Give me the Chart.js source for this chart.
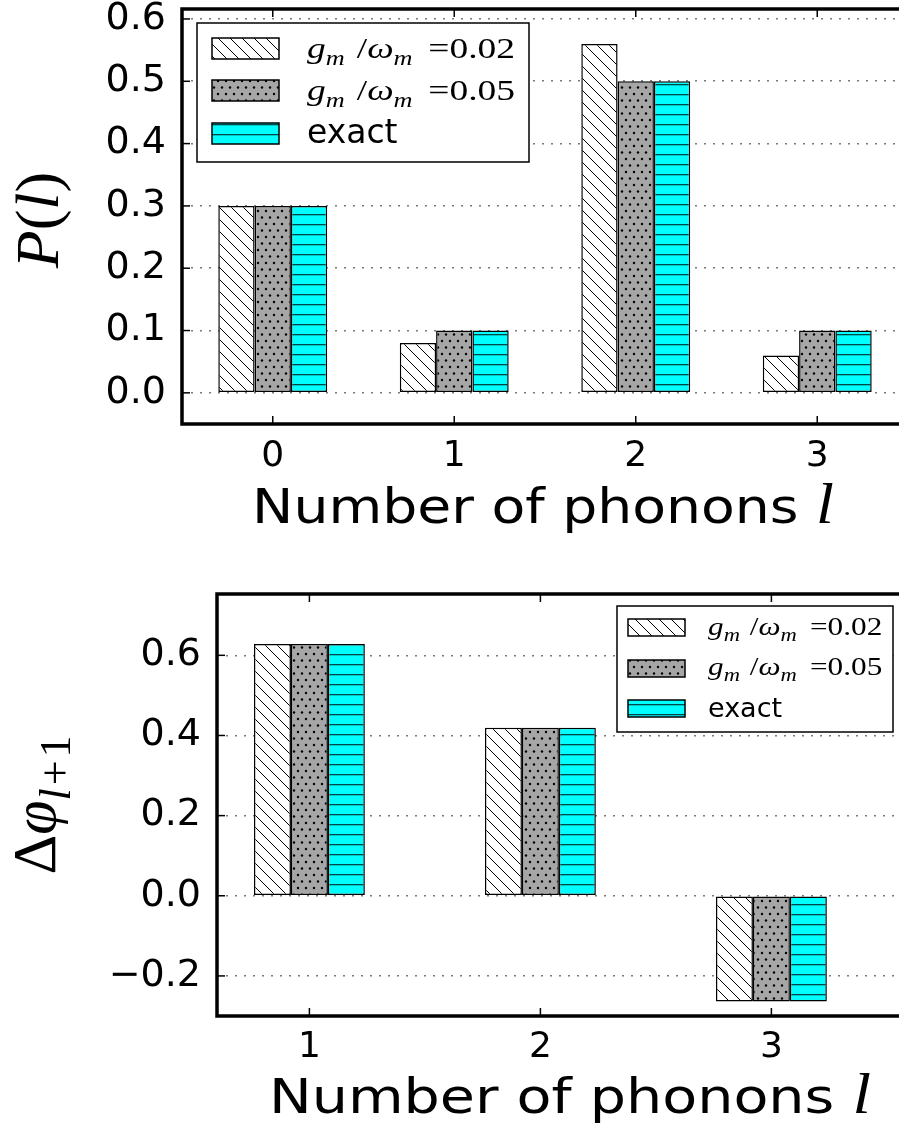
<!DOCTYPE html>
<html>
<head>
<meta charset="utf-8">
<script src="https://cdn.jsdelivr.net/npm/chart.js@4/dist/chart.umd.min.js"></script>
<style>
  html, body { margin: 0; padding: 0; background: #fff; overflow: hidden; width: 899px; height: 1128px; }
  canvas { position: absolute; left: 0; }
  #probChart { top: 0; }
  #phaseChart { top: 560px; }
</style>
</head>
<body>
<canvas id="probChart" width="960" height="560"></canvas>
<canvas id="phaseChart" width="960" height="568"></canvas>
<script>
// ---- data: phonon-number distribution P(l) ----
const phononNumbers = ['0', '1', '2', '3'];
const probWeak   = [0.30, 0.08, 0.56, 0.06];   // g_m/ω_m = 0.02
const probStrong = [0.30, 0.10, 0.50, 0.10];   // g_m/ω_m = 0.05
const probExact  = [0.30, 0.10, 0.50, 0.10];
const probTicks  = [0.0, 0.1, 0.2, 0.3, 0.4, 0.5, 0.6];

// ---- data: phase differences Δφ_{l+1} ----
const phaseNumbers = [1, 2, 3];
const phaseWeak   = [0.628, 0.419, -0.264];
const phaseStrong = [0.628, 0.419, -0.264];
const phaseExact  = [0.628, 0.419, -0.264];
const phaseTicks  = [-0.2, 0.0, 0.2, 0.4, 0.6];

const couplings = ['0.02', '0.05'];
const exactLabel = 'exact';

// ---- fill patterns ----
function makePattern(kind) {
  const c = document.createElement('canvas');
  const g = c.getContext('2d');
  if (kind === 'diag') {
    c.width = 12; c.height = 12;
    g.fillStyle = '#fff'; g.fillRect(0, 0, 12, 12);
    g.strokeStyle = '#000'; g.lineWidth = 1;
    for (const o of [-12, 0, 12]) {
      g.beginPath(); g.moveTo(o, 0); g.lineTo(o + 12, 12); g.stroke();
    }
  } else if (kind === 'dots') {
    c.width = 8; c.height = 13;
    g.fillStyle = '#a6a6a6'; g.fillRect(0, 0, 8, 13);
    g.fillStyle = '#000';
    g.beginPath(); g.arc(2, 3, 1.2, 0, Math.PI * 2); g.fill();
    g.beginPath(); g.arc(6, 9.5, 1.2, 0, Math.PI * 2); g.fill();
  } else {
    c.width = 10; c.height = 10;
    g.fillStyle = '#00ffff'; g.fillRect(0, 0, 10, 10);
    g.fillStyle = 'rgba(0,40,40,0.85)';
    g.fillRect(0, 4, 10, 1.3);
  }
  return g.createPattern(c, 'repeat');
}
const fills = [makePattern('diag'), makePattern('dots'), makePattern('lines')];

// ---- text helpers ----
const it = s => `italic ${s}px "Liberation Serif"`;
const rm = s => `${s}px "Liberation Serif"`;
const sans = s => `${s}px "DejaVu Sans"`;

function drawRuns(ctx, runs, x, y, opt) {
  const o = Object.assign({ sx: 1, rot: 0, align: 'left' }, opt || {});
  ctx.save();
  ctx.translate(x, y);
  if (o.rot) ctx.rotate(o.rot);
  ctx.scale(o.sx, 1);
  ctx.fillStyle = '#000';
  ctx.textBaseline = 'alphabetic';
  ctx.textAlign = 'left';
  let total = 0;
  for (const r of runs) { ctx.font = r.f; total += (r.gap || 0) + ctx.measureText(r.t).width; }
  let cx = o.align === 'center' ? -total / 2 : 0;
  for (const r of runs) {
    cx += r.gap || 0;
    ctx.font = r.f;
    ctx.fillText(r.t, cx, r.dy || 0);
    cx += ctx.measureText(r.t).width;
  }
  ctx.restore();
}

function couplingRuns(value, M) {
  const S = Math.round(M * 0.7);
  return [
    { t: 'g', f: it(M) },
    { t: 'm', f: it(S), dy: 0.22 * M },
    { t: '/', f: rm(M), gap: 0.32 * M },
    { t: 'ω', f: it(M) },
    { t: 'm', f: it(S), dy: 0.22 * M },
    { t: '=', f: rm(M), gap: 0.42 * M },
    { t: value, f: rm(M) }
  ];
}

// ---- plugins ----
const frameTicks = {
  id: 'frameTicks',
  afterDraw(chart) {
    const { ctx, chartArea: a, scales: { x, y } } = chart;
    ctx.save();
    ctx.strokeStyle = '#000';
    ctx.lineWidth = 1.5;
    const seg = (x1, y1, x2, y2) => { ctx.beginPath(); ctx.moveTo(x1, y1); ctx.lineTo(x2, y2); ctx.stroke(); };
    x.ticks.forEach((t, i) => {
      const px = x.getPixelForTick(i);
      seg(px, a.bottom, px, a.bottom - 8);
      seg(px, a.top, px, a.top + 8);
    });
    y.ticks.forEach((t, i) => {
      const py = y.getPixelForTick(i);
      seg(a.left, py, a.left + 8, py);
      seg(a.right, py, a.right - 8, py);
    });
    ctx.lineWidth = 3.5;
    ctx.strokeRect(a.left, a.top, a.right - a.left, a.bottom - a.top);
    ctx.restore();
  }
};

function legendPlugin(cfg) {
  return {
    id: 'boxLegend',
    afterDraw(chart) {
      const ctx = chart.ctx;
      ctx.save();
      ctx.fillStyle = '#fff';
      ctx.fillRect(cfg.x, cfg.y, cfg.w, cfg.h);
      ctx.strokeStyle = '#000';
      ctx.lineWidth = 1.5;
      ctx.strokeRect(cfg.x, cfg.y, cfg.w, cfg.h);
      chart.data.datasets.forEach((ds, i) => {
        const py = cfg.rowY[i];
        ctx.fillStyle = ds.backgroundColor;
        ctx.fillRect(cfg.px, py, cfg.pw, cfg.ph);
        ctx.lineWidth = 1.5;
        ctx.strokeRect(cfg.px, py, cfg.pw, cfg.ph);
        const base = cfg.baseY[i];
        if (i < couplings.length) {
          drawRuns(ctx, couplingRuns(couplings[i], cfg.math), cfg.tx, base, { sx: cfg.sx });
        } else {
          drawRuns(ctx, [{ t: exactLabel, f: sans(cfg.sans) }], cfg.tx, base);
        }
      });
      ctx.restore();
    }
  };
}

function titlePlugin(xRuns, xPos, yRuns, yPos) {
  return {
    id: 'axisTitles',
    afterDraw(chart) {
      const ctx = chart.ctx;
      drawRuns(ctx, xRuns, xPos[0], xPos[1], { align: 'center', sx: xPos[2] });
      drawRuns(ctx, yRuns, yPos[0], yPos[1], { align: 'center', rot: -Math.PI / 2 });
    }
  };
}

function datasetsFrom(series, toPoint) {
  return series.map((vals, i) => ({
    data: toPoint(vals),
    backgroundColor: fills[i],
    borderColor: '#000',
    borderWidth: 1.5,
    borderSkipped: false,
    categoryPercentage: 0.6,
    barPercentage: 1.0
  }));
}

const gridStyle = { color: '#7a7a7a', lineWidth: 1.6, drawTicks: false };
const noPad = s => { s.paddingTop = 0; s.paddingBottom = 0; s.paddingLeft = 0; s.paddingRight = 0; };

// ---- upper panel: P(l) ----
new Chart(document.getElementById('probChart'), {
  type: 'bar',
  data: {
    labels: phononNumbers,
    datasets: datasetsFrom([probWeak, probStrong, probExact], v => v)
  },
  options: {
    responsive: false,
    animation: false,
    devicePixelRatio: 1,
    layout: { padding: { top: 9, right: 52, left: 0, bottom: 0 } },
    plugins: { legend: { display: false }, tooltip: { enabled: false } },
    scales: {
      x: {
        offset: true,
        grid: { display: false, drawTicks: false },
        border: { display: false },
        ticks: { color: '#000', font: { family: 'DejaVu Sans', size: 36 }, padding: 11, maxRotation: 0 },
        afterFit(s) { s.height = 136; noPad(s); }
      },
      y: {
        min: -0.05, max: 0.616,
        z: 1,
        afterBuildTicks(s) { s.ticks = probTicks.map(v => ({ value: v })); },
        ticks: { color: '#000', font: { family: 'DejaVu Sans', size: 38 }, padding: 16, autoSkip: false,
                 callback: v => v.toFixed(1) },
        grid: gridStyle,
        border: { display: false, dash: [2, 7] },
        afterFit(s) { s.width = 182; noPad(s); }
      }
    }
  },
  plugins: [
    frameTicks,
    titlePlugin(
      [{ t: 'Number of phonons ', f: sans(48) }, { t: 'l', f: it(56) }], [543, 523, 1.15],
      [{ t: 'P', f: it(62) }, { t: '(', f: rm(62) }, { t: 'l', f: it(62) }, { t: ')', f: rm(62) }], [58, 220]
    ),
    legendPlugin({ x: 197, y: 23, w: 332, h: 139, px: 212, pw: 67, ph: 21,
                   rowY: [38, 80, 123], baseY: [58, 100, 143], tx: 307, math: 30, sx: 1.25, sans: 33 })
  ]
});

// ---- lower panel: Δφ_{l+1} ----
new Chart(document.getElementById('phaseChart'), {
  type: 'bar',
  data: {
    datasets: datasetsFrom([phaseWeak, phaseStrong, phaseExact],
      vals => vals.map((v, i) => ({ x: phaseNumbers[i], y: v })))
      .map(ds => Object.assign(ds, { categoryPercentage: 0.48 }))
  },
  options: {
    responsive: false,
    animation: false,
    devicePixelRatio: 1,
    layout: { padding: { top: 34, right: 50, left: 0, bottom: 0 } },
    plugins: { legend: { display: false }, tooltip: { enabled: false } },
    scales: {
      x: {
        type: 'linear',
        min: 0.6, max: 3.6,
        offset: false,
        afterBuildTicks(s) { s.ticks = phaseNumbers.map(v => ({ value: v })); },
        grid: { display: false, drawTicks: false, offset: false },
        border: { display: false },
        ticks: { color: '#000', font: { family: 'DejaVu Sans', size: 36 }, padding: 10, maxRotation: 0,
                 autoSkip: false, callback: v => String(v) },
        afterFit(s) { s.height = 112; noPad(s); }
      },
      y: {
        min: -0.3, max: 0.753,
        z: 1,
        afterBuildTicks(s) { s.ticks = phaseTicks.map(v => ({ value: v })); },
        ticks: { color: '#000', font: { family: 'DejaVu Sans', size: 38 }, padding: 16, autoSkip: false,
                 callback: v => (v < 0 ? '\u2212' : '') + Math.abs(v).toFixed(1) },
        grid: gridStyle,
        border: { display: false, dash: [2, 7] },
        afterFit(s) { s.width = 217; noPad(s); }
      }
    }
  },
  plugins: [
    frameTicks,
    titlePlugin(
      [{ t: 'Number of phonons ', f: sans(48) }, { t: 'l', f: it(56) }], [570, 553, 1.19],
      [{ t: 'Δ', f: rm(62) }, { t: 'φ', f: it(62) },
       { t: 'l', f: it(44), dy: 15 }, { t: '+', f: rm(44), dy: 15, gap: 3 }, { t: '1', f: rm(44), dy: 15, gap: 3 }],
      [55, 245]
    ),
    legendPlugin({ x: 617, y: 46, w: 276, h: 126, px: 628, pw: 57, ph: 17,
                   rowY: [59, 100, 140], baseY: [75, 115, 157], tx: 708, math: 25, sx: 1.25, sans: 27 })
  ]
});
</script>
</body>
</html>
